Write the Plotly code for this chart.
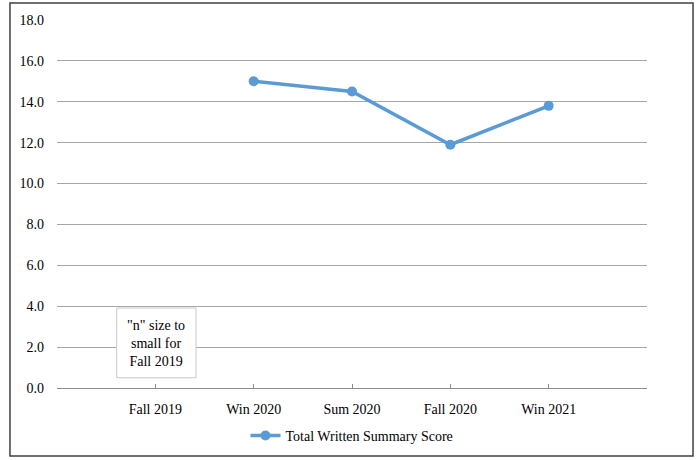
import plotly.graph_objects as go

# Term labels along the category axis (with empty padding slots at each end)
terms = ["Fall 2019", "Win 2020", "Sum 2020", "Fall 2020", "Win 2021"]
# Total Written Summary Score per term (Fall 2019 not reported)
scores = [None, 15.0, 14.5, 11.9, 13.8]
series_name = "Total Written Summary Score"
y_ticks = [0, 2, 4, 6, 8, 10, 12, 14, 16, 18]

positions = list(range(1, len(terms) + 1))
font_family = "Times New Roman, Liberation Serif, serif"
font_size = 14
line_color = "#5B9BD5"
text_font = dict(family=font_family, size=font_size, color="#000000")

fig = go.Figure()
fig.add_trace(go.Scatter(
    x=positions, y=scores, mode="lines+markers", name=series_name,
    line=dict(color=line_color, width=3.5),
    marker=dict(color=line_color, size=10),
    connectgaps=False,
))

fig.update_layout(
    width=697, height=460,
    margin=dict(l=57, r=50, t=20, b=72, autoexpand=False),
    paper_bgcolor="white", plot_bgcolor="white",
    font=text_font,
    showlegend=True,
    legend=dict(orientation="h", x=0.5, xanchor="center", y=-0.13, yanchor="middle",
                font=text_font, itemwidth=30, bgcolor="rgba(0,0,0,0)"),
    xaxis=dict(
        range=[0, len(terms) + 1],
        tickvals=[0] + positions + [len(terms) + 1],
        ticktext=[""] + terms + [""],
        showgrid=False, zeroline=False,
        showline=True, linecolor="#8c8c8c", linewidth=1,
        ticks="inside", ticklen=4, tickcolor="#8c8c8c",
        ticklabelstandoff=8,
        tickfont=text_font,
    ),
    yaxis=dict(
        range=[0, 18],
        tickvals=y_ticks,
        ticktext=[f"{v:.1f}" for v in y_ticks],
        showgrid=True, gridcolor="#a6a6a6", gridwidth=1,
        zeroline=False, showline=False, ticks="",
        ticklabelstandoff=12,
        tickfont=text_font,
    ),
)

# Note box for the unreported term
fig.add_shape(type="rect", xref="x", yref="y", x0=0.607, x1=1.414, y0=0.5, y1=3.91,
              line=dict(color="#c8c8c8", width=1), fillcolor="white", layer="above")
fig.add_annotation(xref="x", yref="y", x=1.01, y=2.2,
                   text="\"n\" size to<br>small for<br>Fall 2019",
                   showarrow=False, align="center", font=text_font)

# Outer chart border
fig.add_shape(type="rect", xref="paper", yref="paper",
              x0=-0.0797, x1=1.078, y0=-0.1848, y1=1.046,
              line=dict(color="#404040", width=1.5), fillcolor="rgba(0,0,0,0)")

fig.write_html("out.html")
